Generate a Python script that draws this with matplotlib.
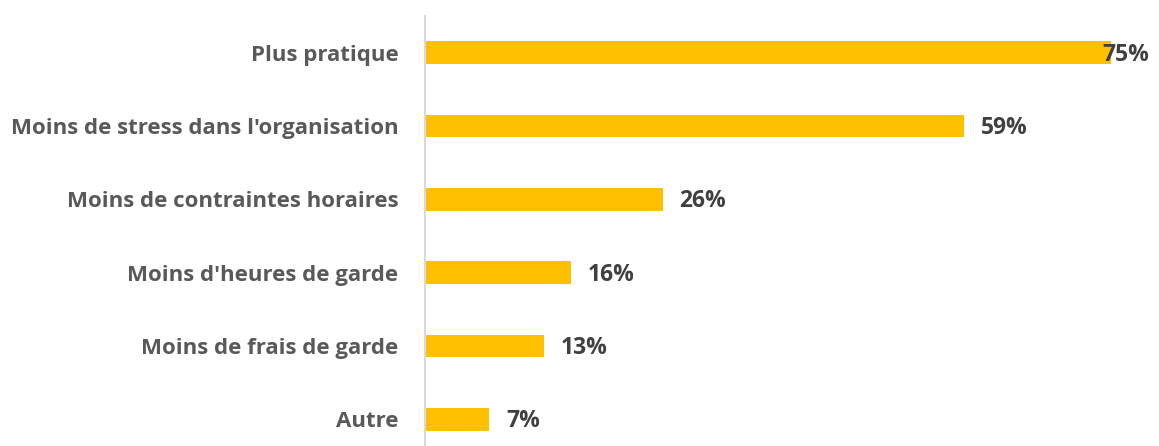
import matplotlib.pyplot as plt

categories = [
    "Plus pratique",
    "Moins de stress dans l'organisation",
    "Moins de contraintes horaires",
    "Moins d'heures de garde",
    "Moins de frais de garde",
    "Autre",
]
values = [75, 59, 26, 16, 13, 7]
value_labels = ["75%", "59%", "26%", "16%", "13%", "7%"]

bar_color = "#FFC000"
cat_color = "#595959"
val_color = "#404040"
font = ["Open Sans", "DejaVu Sans"]

fig = plt.figure(figsize=(11.59, 4.46), dpi=100)
# axes spans from the visible axis line to the right edge; bottom category cut off like the source
ax = fig.add_axes([425 / 1159, -10 / 446, 734 / 1159, 440 / 446])

ypos = list(range(len(categories)))
ax.barh(ypos, values, height=0.31, color=bar_color)
ax.set_ylim(len(categories) - 0.5, -0.5)
ax.set_xlim(0, 734 / 9.14)

ax.set_yticks(ypos)
ax.set_yticklabels(categories, fontsize=16, fontweight="bold", color=cat_color,
                   family=font)
ax.tick_params(axis="y", length=0, pad=19)
ax.set_xticks([])

for s in ["top", "right", "bottom"]:
    ax.spines[s].set_visible(False)
ax.spines["left"].set_color("#D9D9D9")
ax.spines["left"].set_linewidth(1.5)

for y, v, lab in zip(ypos, values, value_labels):
    # the largest value's label gets pulled back inside the plot area
    dx = -5.8 if v == max(values) else 12.2
    ax.annotate(lab, (v, y), xytext=(dx, -1.5), textcoords="offset points",
                ha="left", va="center", fontsize=16.5, fontweight="bold",
                color=val_color, family=font)

fig.savefig("out.png", dpi=100)
